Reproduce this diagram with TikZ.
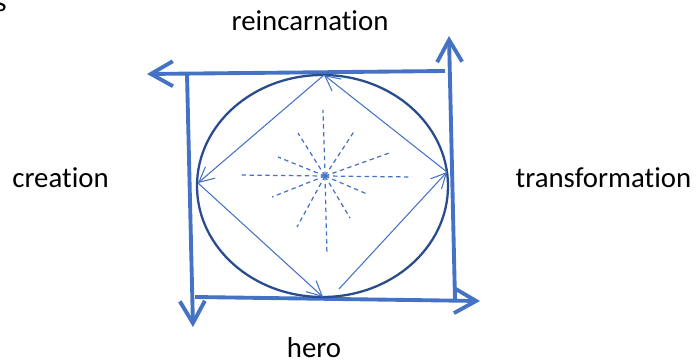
\documentclass[tikz,border=0pt]{standalone}
\usepackage{fontspec}
\setmainfont{Carlito}[RawFeature=-liga]
\usetikzlibrary{arrows.meta}
\definecolor{frameblue}{RGB}{68,114,196}
\definecolor{ringblue}{RGB}{42,76,140}

\begin{document}
\begin{tikzpicture}[x=0.02cm,y=-0.02cm]
		\tikzset{frameline/.style={line width=2.2pt,frameblue,-{Straight Barb[length=4.4mm,width=5mm]}},
			cycleline/.style={line width=0.6pt,frameblue,-{Straight Barb[length=3mm,width=3mm]}},
			ray/.style={line width=0.7pt,frameblue,dash pattern=on 2.5pt off 2pt},
			word/.style={anchor=base,inner sep=0pt,font=\fontsize{16.4}{20}\selectfont}};
		\useasboundingbox (0,0) rectangle (698,362);
		% frame
		\coordinate (tr) at (445,71);
		\coordinate (tl) at (187,74);
		\coordinate (bl) at (195,297);
		\coordinate (br) at (455,300);
		\draw[frameline] (tr) -- (147,74);
		\draw[frameline] (tl) -- (193,327);
		\draw[frameline] (bl) -- (480,301);
		\draw[frameline] (br) -- (449,36);
		% ring and cycle
		\draw[ringblue,line width=1.3pt] (322.5,186) ellipse [x radius=125.5, y radius=111];
		\coordinate (top) at (324,75);
		\coordinate (right) at (447,172);
		\coordinate (bottom) at (323,297);
		\coordinate (left) at (198,183);
		\coordinate (start) at (339,289);
		\draw[cycleline] (start) -- (right);
		\draw[cycleline] (right) -- (top);
		\draw[cycleline] (top) -- (left);
		\draw[cycleline] (left) -- (bottom);
		% rays
		\coordinate (c) at (325,176);
		\foreach \dx/\dy in {-2/-66,2/79,-86/-1,87/1,-27/-43,30/-46,-47/-19,67/-24,-53/21,42/18,-28/51,25/42}
			\draw[ray] (c) -- ++(\dx,\dy);
		% labels
		\node[word] (reinc) at (310,30) {reincarnation};
		\node[word] (creat) at (60.5,187) {creation};
		\node[word] (trans) at (603.5,187) {transformation};
		\node[word] (hero) at (314,357) {hero};
		\node[word,anchor=base east] (cut) at (7,11) {s};
	\end{tikzpicture}
\end{document}
